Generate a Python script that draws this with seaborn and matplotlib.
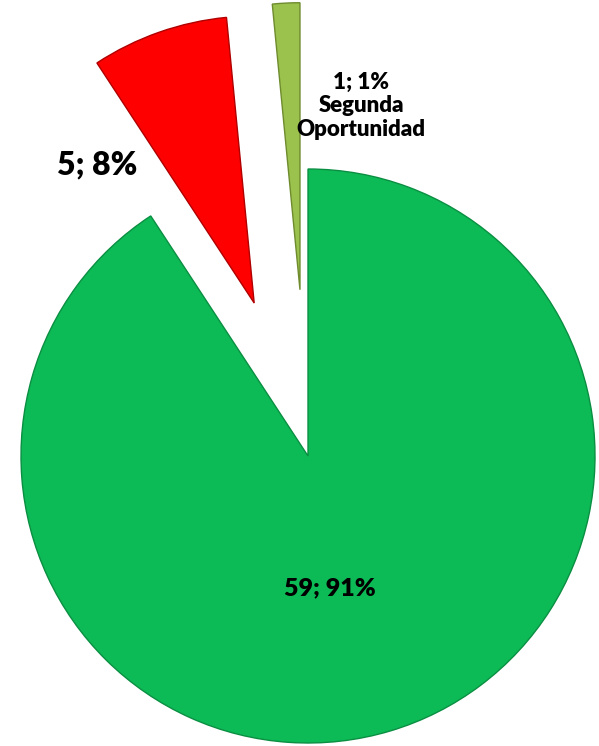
import matplotlib
matplotlib.use("Agg")
import matplotlib.pyplot as plt
import seaborn as sns

sns.set_theme(style="white")
plt.rcParams['font.family'] = ['Lato', 'DejaVu Sans']

categories = ["Aprobado", "Reprobado", "Segunda Oportunidad"]
values = [59, 5, 1]
labels = ["59; 91%", "5; 8%", "1; 1%\nSegunda\nOportunidad"]
colors = ["#0DBB56", "#FF0000", "#9BC24C"]
edges = ["#0A8F42", "#B00000", "#6E8C2E"]
explode = [0.0, 0.565, 0.58]

fig = plt.figure(figsize=(5.99, 7.46), dpi=100)
ax = fig.add_axes([0, 0, 1, 1])
wedges, _ = ax.pie(values, colors=colors, explode=explode, startangle=90,
                   counterclock=False, radius=1.0,
                   wedgeprops=dict(linewidth=1.0))
for w, ec in zip(wedges, edges):
    w.set_edgecolor(ec)

ax.set_xlim(-1.0732, 1.0139)
ax.set_ylim(-1.0105, 1.5889)
ax.set_aspect('auto')
ax.axis('off')

ax.text(0.0767, -0.460, labels[0], ha='center', va='center',
        fontsize=18, fontweight='heavy', color='black')
ax.text(-0.735, 1.014, labels[1], ha='center', va='center',
        fontsize=23, fontweight='heavy', color='black')
ax.text(0.185, 1.220, labels[2], ha='center', va='center',
        fontsize=16, fontweight='heavy', color='black', linespacing=1.15)

fig.savefig("out.png", dpi=100)
